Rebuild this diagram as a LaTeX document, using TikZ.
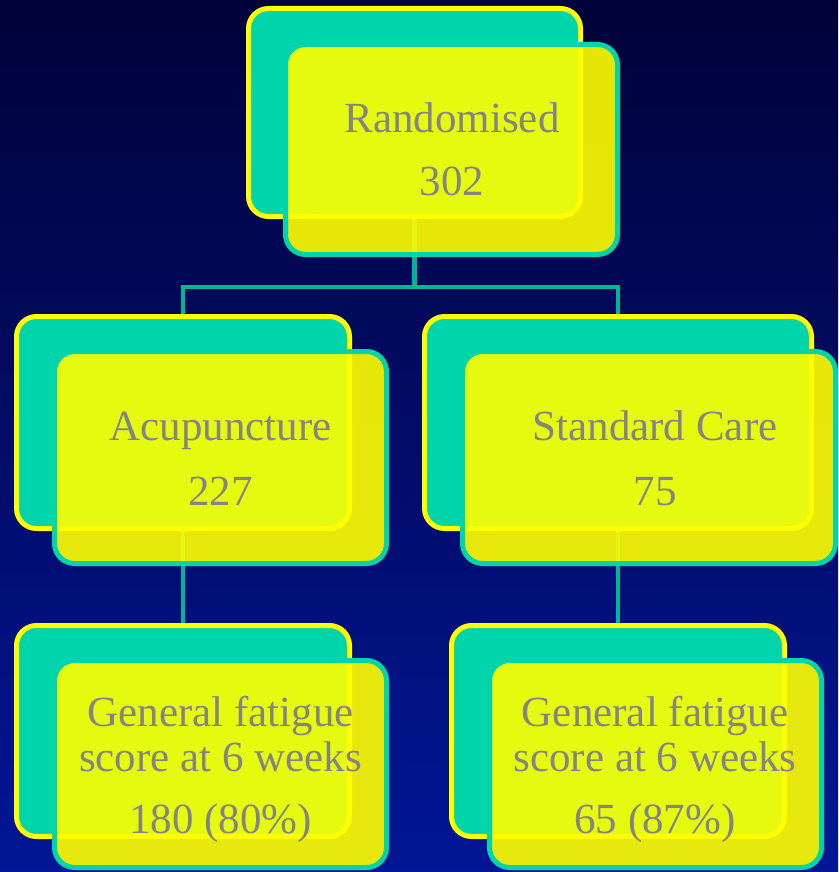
\documentclass[tikz,border=0pt]{standalone}
\usepackage{fontspec}
\setmainfont{Liberation Serif}
\definecolor{bgtop}{RGB}{0,2,56}
\definecolor{bgbot}{RGB}{2,22,150}
\definecolor{tealfill}{RGB}{0,212,170}
\definecolor{connteal}{RGB}{0,180,150}
\definecolor{boxyellow}{RGB}{255,255,0}
\definecolor{txtgray}{RGB}{132,132,132}
\pgfdeclarelayer{bglayer}
\pgfdeclarelayer{connlayer}
\pgfsetlayers{bglayer,connlayer,main}
\tikzset{
  backbox/.style={draw=boxyellow, fill=tealfill, line width=5pt, rounded corners=20pt, inner sep=0pt, outer sep=0pt},
  frontbox/.style={draw=tealfill, fill=boxyellow, fill opacity=0.9, line width=5pt, rounded corners=20pt, inner sep=0pt, outer sep=0pt},
  conn/.style={draw=connteal, line width=4.5pt},
  lbl/.style={text=txtgray, font=\fontsize{43}{50}\selectfont, inner sep=0pt, anchor=base}
}
\begin{document}
\begin{tikzpicture}[x=1pt,y=-1pt]
\useasboundingbox (0,0) rectangle (838,872);
\begin{pgfonlayer}{bglayer}
\shade[top color=bgtop, bottom color=bgbot] (0,0) rectangle (838,872);
\end{pgfonlayer}

% back boxes
\node[backbox, minimum width=332pt, minimum height=208pt] (rb) at (414.5,112.5) {};
\node[backbox, minimum width=333pt, minimum height=212pt] (ab) at (183,422.5) {};
\node[backbox, minimum width=387pt, minimum height=212pt] (sb) at (618,422.5) {};
\node[backbox, minimum width=333pt, minimum height=211pt] (gb) at (183,731) {};
\node[backbox, minimum width=333pt, minimum height=211pt] (hb) at (618,731) {};

% connectors
\coordinate (j) at (414.5,287);
\begin{pgfonlayer}{connlayer}
\draw[conn] (rb.south) -- (j);
\draw[conn] (ab.north) |- (j) -| (sb.north);
\draw[conn] (ab.south) -- (gb.north);
\draw[conn] (sb.south) -- (hb.north);
\end{pgfonlayer}

% front boxes
\node[frontbox, minimum width=332pt, minimum height=210pt] (rf) at (451.5,149.5) {};
\node[frontbox, minimum width=332pt, minimum height=212pt] (af) at (220.5,457.5) {};
\node[frontbox, minimum width=373pt, minimum height=212pt] (sf) at (649,457.5) {};
\node[frontbox, minimum width=332pt, minimum height=207pt] (gf) at (220.5,764) {};
\node[frontbox, minimum width=332pt, minimum height=207pt] (hf) at (655.5,764) {};

% texts
\node[lbl] (r1) at (452,132) {Randomised};
\node[lbl] (r2) at (452,195) {302};
\node[lbl] (a1) at (220.5,440) {Acupuncture};
\node[lbl] (a2) at (220.5,505) {227};
\node[lbl] (s1) at (655,440) {Standard Care};
\node[lbl] (s2) at (655,505) {75};
\node[lbl] (g1) at (220.5,726) {General fatigue};
\node[lbl] (g2) at (220.5,771) {score at 6 weeks};
\node[lbl] (g3) at (220.5,833) {180 (80\%)};
\node[lbl] (h1) at (655,726) {General fatigue};
\node[lbl] (h2) at (655,771) {score at 6 weeks};
\node[lbl] (h3) at (655,833) {65 (87\%)};
\end{tikzpicture}
\end{document}
